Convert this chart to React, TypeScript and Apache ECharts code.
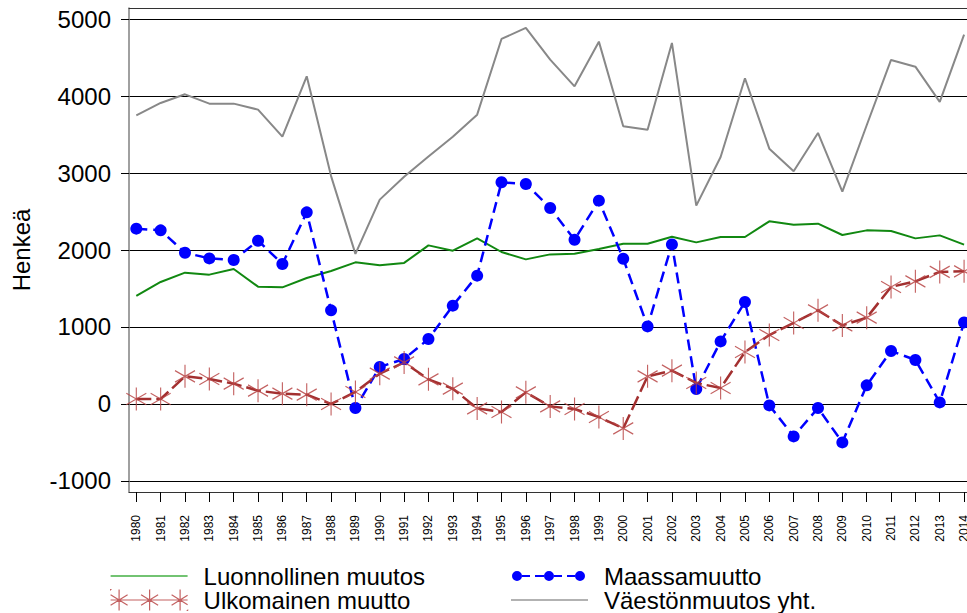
import React, { useEffect, useRef } from "react";
import * as echarts from "echarts";

const years = [
  1980, 1981, 1982, 1983, 1984, 1985, 1986, 1987, 1988, 1989, 1990, 1991,
  1992, 1993, 1994, 1995, 1996, 1997, 1998, 1999, 2000, 2001, 2002, 2003,
  2004, 2005, 2006, 2007, 2008, 2009, 2010, 2011, 2012, 2013, 2014,
];

const yTicks = [-1000, 0, 1000, 2000, 3000, 4000, 5000];

const luonnollinen = [
  1403, 1585, 1706, 1680, 1754, 1524, 1515, 1637, 1728, 1840, 1801, 1832,
  2060, 1991, 2151, 1974, 1878, 1943, 1952, 2013, 2082, 2082, 2173, 2099,
  2169, 2169, 2372, 2329, 2342, 2195, 2255, 2247, 2151, 2190, 2069,
];

const maassamuutto = [
  2277, 2255, 1965, 1891, 1870, 2121, 1819, 2489, 1216, -52, 481, 585, 844,
  1277, 1667, 2879, 2858, 2546, 2134, 2641, 1887, 1008, 2073, 195, 813, 1325,
  -18, -421, -52, -499, 242, 688, 572, 21, 1060,
];

const ulkomainen = [
  65, 65, 359, 325, 264, 173, 134, 121, 0, 156, 394, 540, 320, 199, -57, -104,
  151, -31, -65, -169, -317, 359, 433, 273, 208, 675, 896, 1052, 1216, 1021,
  1121, 1520, 1593, 1715, 1723,
];

const vaesto = [
  3749, 3910, 4022, 3901, 3901, 3823, 3472, 4256, 2960, 1950, 2654, 2950,
  3215, 3472, 3758, 4741, 4884, 4472, 4126, 4706, 3606, 3563, 4689, 2576,
  3208, 4230, 3316, 3022, 3520, 2758, 3620, 4468, 4381, 3923, 4797,
];

const FONT = "'Liberation Sans', Arial, sans-serif";

const asterisk = "path://M9,0 L9,20 M0,5 L18,15 M0,15 L18,5";

const BOX = "M0,0 L0.01,0 L0,0.01 Z M77,21 L76.99,21 L77,20.99 Z ";

const redIcon =
  "path://" + BOX +
  "M8.5,0 L8.5,21 M0,5.25 L17,15.75 M0,15.75 L17,5.25 " +
  "M39,0 L39,21 M30.5,5.25 L47.5,15.75 M30.5,15.75 L47.5,5.25 " +
  "M69.5,0 L69.5,21 M61,5.25 L77,15.25 M61,15.75 L77,5.75 " +
  "M0,10.5 L77,10.5";

const blueIcon =
  "path://" + BOX +
  "M1,10.5 A5,5 0 1,0 11,10.5 A5,5 0 1,0 1,10.5 Z " +
  "M33,10.5 A5,5 0 1,0 43,10.5 A5,5 0 1,0 33,10.5 Z " +
  "M64,10.5 A5,5 0 1,0 74,10.5 A5,5 0 1,0 64,10.5 Z " +
  "M11,9.5 L19,9.5 L19,11.5 L11,11.5 Z M24,9.5 L33,9.5 L33,11.5 L24,11.5 Z " +
  "M43,9.5 L51,9.5 L51,11.5 L43,11.5 Z M56,9.5 L64,9.5 L64,11.5 L56,11.5 Z";

const lineIcon = "path://" + BOX + "M0,9.8 L77,9.8 L77,11.2 L0,11.2 Z";

const pairs = (arr: number[]) => years.map((y, i) => [y, arr[i]]);

export default function App() {
  const ref = useRef<HTMLDivElement>(null);

  useEffect(() => {
    if (!ref.current) return;
    const chart = echarts.init(ref.current, null, { renderer: "svg" });
    const legendText = {
      fontSize: 24,
      fontFamily: FONT,
      color: "#000",
      lineHeight: 21,
      padding: [0, 0, 0, 11],
    };
    const legendBase = {
      orient: "vertical",
      top: 564,
      height: 48,
      padding: 0,
      itemWidth: 77,
      itemHeight: 21,
      itemGap: 0,
      textStyle: legendText,
    };
    chart.setOption({
      animation: false,
      backgroundColor: "#fff",
      textStyle: { fontFamily: FONT },
      grid: {
        left: 129,
        top: 8,
        right: 0,
        bottom: 121,
        containLabel: false,
        outerBoundsMode: "none",
      },
      xAxis: [
        {
          type: "value",
          min: 1979.7,
          max: 2014.12,
          axisLine: { show: true, onZero: false, lineStyle: { color: "#333", width: 1 } },
          axisTick: {
            show: true,
            customValues: years,
            length: 10,
            lineStyle: { color: "#000", width: 1 },
          },
          axisLabel: {
            customValues: years,
            rotate: 90,
            margin: 23,
            fontSize: 12,
            color: "#000",
            fontFamily: FONT,
            formatter: (v: number) => String(v),
          },
          splitLine: { show: false },
        },
        {
          type: "value",
          position: "top",
          min: 1979.7,
          max: 2014.12,
          axisLine: { show: true, onZero: false, lineStyle: { color: "#333", width: 1 } },
          axisTick: { show: false },
          axisLabel: { show: false },
          splitLine: { show: false },
        },
      ],
      yAxis: {
        type: "value",
        min: -1143,
        max: 5143,
        name: "Henkeä",
        nameLocation: "middle",
        nameRotate: 90,
        nameGap: 96,
        nameTextStyle: { fontSize: 24, color: "#000", fontFamily: FONT },
        axisLine: { show: true, onZero: false, lineStyle: { color: "#808080", width: 1.5 } },
        axisTick: {
          show: true,
          customValues: yTicks,
          length: 8,
          lineStyle: { color: "#000", width: 1 },
        },
        axisLabel: {
          customValues: yTicks,
          margin: 18,
          fontSize: 24,
          color: "#000",
          fontFamily: FONT,
          formatter: (v: number) => String(v),
        },
        splitLine: { show: true, lineStyle: { color: "#000", width: 1 } },
      },
      legend: [
        {
          ...legendBase,
          left: 110,
          data: [
            {
              name: "Luonnollinen muutos",
              icon: lineIcon,
              itemStyle: { color: "#44b044", borderWidth: 0 },
            },
            {
              name: "Ulkomainen muutto",
              icon: redIcon,
              itemStyle: { color: "#b84545", borderColor: "#b84545", borderWidth: 1.2 },
            },
          ],
        },
        {
          ...legendBase,
          left: 511,
          data: [
            {
              name: "Maassamuutto",
              icon: blueIcon,
              itemStyle: { color: "#0000ff", borderWidth: 0 },
            },
            {
              name: "Väestönmuutos yht.",
              icon: lineIcon,
              itemStyle: { color: "#999999", borderWidth: 0 },
            },
          ],
        },
      ],
      series: [
        {
          name: "Luonnollinen muutos",
          type: "line",
          data: pairs(luonnollinen),
          symbol: "none",
          lineStyle: { color: "#118811", width: 2 },
          itemStyle: { color: "#118811" },
        },
        {
          name: "Maassamuutto",
          type: "line",
          data: pairs(maassamuutto),
          symbol: "circle",
          symbolSize: 12,
          lineStyle: { color: "#0000ff", width: 2.5, type: [11, 6] },
          itemStyle: { color: "#0000ff" },
        },
        {
          name: "Ulkomainen muutto",
          type: "line",
          data: pairs(ulkomainen),
          symbol: asterisk,
          symbolSize: [20, 23],
          lineStyle: { color: "#a33030", width: 2.5, type: [15, 5] },
          itemStyle: { color: "#b84545", borderColor: "#b84545", borderWidth: 1.2, opacity: 0.85 },
        },
        {
          name: "Väestönmuutos yht.",
          type: "line",
          data: pairs(vaesto),
          symbol: "none",
          lineStyle: { color: "#888888", width: 2 },
          itemStyle: { color: "#888888" },
        },
      ],
    });
    return () => chart.dispose();
  }, []);

  return (
    <div
      ref={ref}
      style={{ position: "fixed", left: 0, top: 0, width: 967, height: 613 }}
    />
  );
}
